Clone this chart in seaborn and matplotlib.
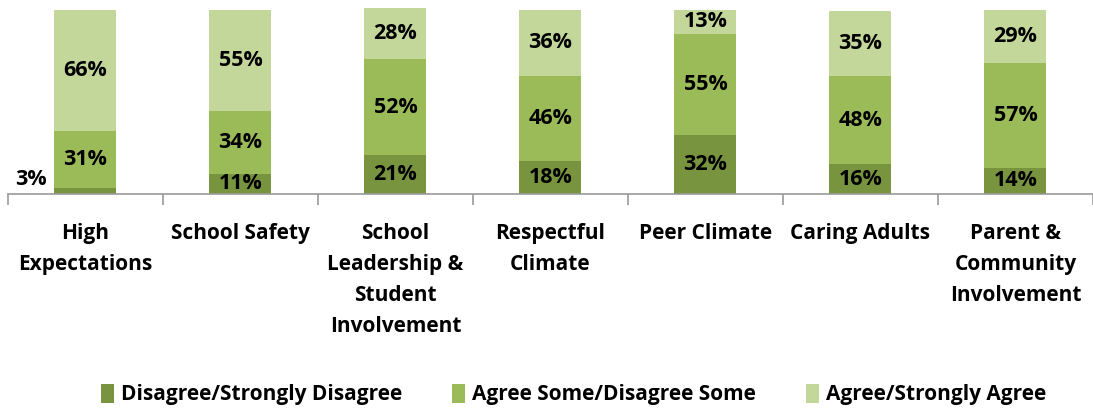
import matplotlib
matplotlib.use('Agg')
import numpy as np
import pandas as pd
import seaborn as sns
import matplotlib.pyplot as plt
from matplotlib.patches import Patch

categories = ['High\nExpectations', 'School Safety',
              'School\nLeadership &\nStudent\nInvolvement',
              'Respectful\nClimate', 'Peer Climate', 'Caring Adults',
              'Parent &\nCommunity\nInvolvement']
disagree = [3, 11, 21, 18, 32, 16, 14]
agree_some = [31, 34, 52, 46, 55, 48, 57]
agree = [66, 55, 28, 36, 13, 35, 29]
series_names = ['Disagree/Strongly Disagree', 'Agree Some/Disagree Some',
                'Agree/Strongly Agree']
colors = ['#79943F', '#9BBB59', '#C4D79B']

sns.set_style('white')
plt.rcParams['font.family'] = ['Open Sans', 'DejaVu Sans']
plt.rcParams['font.weight'] = 'bold'
plt.rcParams['text.color'] = 'black'
plt.rcParams['xtick.color'] = 'black'

df = pd.DataFrame({'Category': categories, 'd': disagree,
                   'm': agree_some, 'a': agree})
df['c1'] = df['d']
df['c2'] = df['d'] + df['m']
df['c3'] = df['c2'] + df['a']

fig = plt.figure(figsize=(10.93, 4.09), dpi=100)
ax = fig.add_axes([0.0073, 0.526, 0.9927, 0.455])

# stacked bars by overlaying cumulative totals
for col, color in zip(['c3', 'c2', 'c1'], colors[::-1]):
    sns.barplot(data=df, x='Category', y=col, color=color, width=0.4,
                saturation=1, ax=ax, edgecolor='none')

for i, row in df.iterrows():
    segs = [(0, row['d']), (row['c1'], row['m']), (row['c2'], row['a'])]
    for base, val in segs:
        if val < 5:
            ax.text(i - 0.35, base + 8, f'{val}%', ha='center', va='center',
                    fontsize=15.5, fontweight='bold', color='black')
        else:
            ax.text(i, base + val / 2, f'{val}%', ha='center', va='center',
                    fontsize=15.5, fontweight='bold', color='black')

ax.set_xlim(-0.5, len(categories) - 0.5)
ax.set_ylim(0, 101)
ax.set_xlabel('')
ax.set_ylabel('')
ax.set_yticks([])
for s in ['top', 'right', 'left']:
    ax.spines[s].set_visible(False)
ax.spines['bottom'].set_color('#9a9a9a')
ax.spines['bottom'].set_linewidth(1.2)

ax.set_xticks(np.arange(len(categories) + 1) - 0.5, minor=True)
ax.tick_params(axis='x', which='minor', length=8, color='#9a9a9a', width=1.2,
               direction='out', bottom=True)
ax.tick_params(axis='x', which='major', length=0, pad=21)
ax.set_xticklabels(categories, fontsize=15, fontweight='bold',
                   linespacing=1.62, color='black')

handles = [Patch(facecolor=c, edgecolor='none') for c in colors]
fig.legend(handles, series_names, loc='center', bbox_to_anchor=(0.525, 0.035),
           ncol=3, frameon=False, handlelength=0.6,
           handleheight=1.0, handletextpad=0.35, columnspacing=2.4,
           prop={'weight': 'bold', 'size': 15})

fig.savefig('out.png', dpi=100)
